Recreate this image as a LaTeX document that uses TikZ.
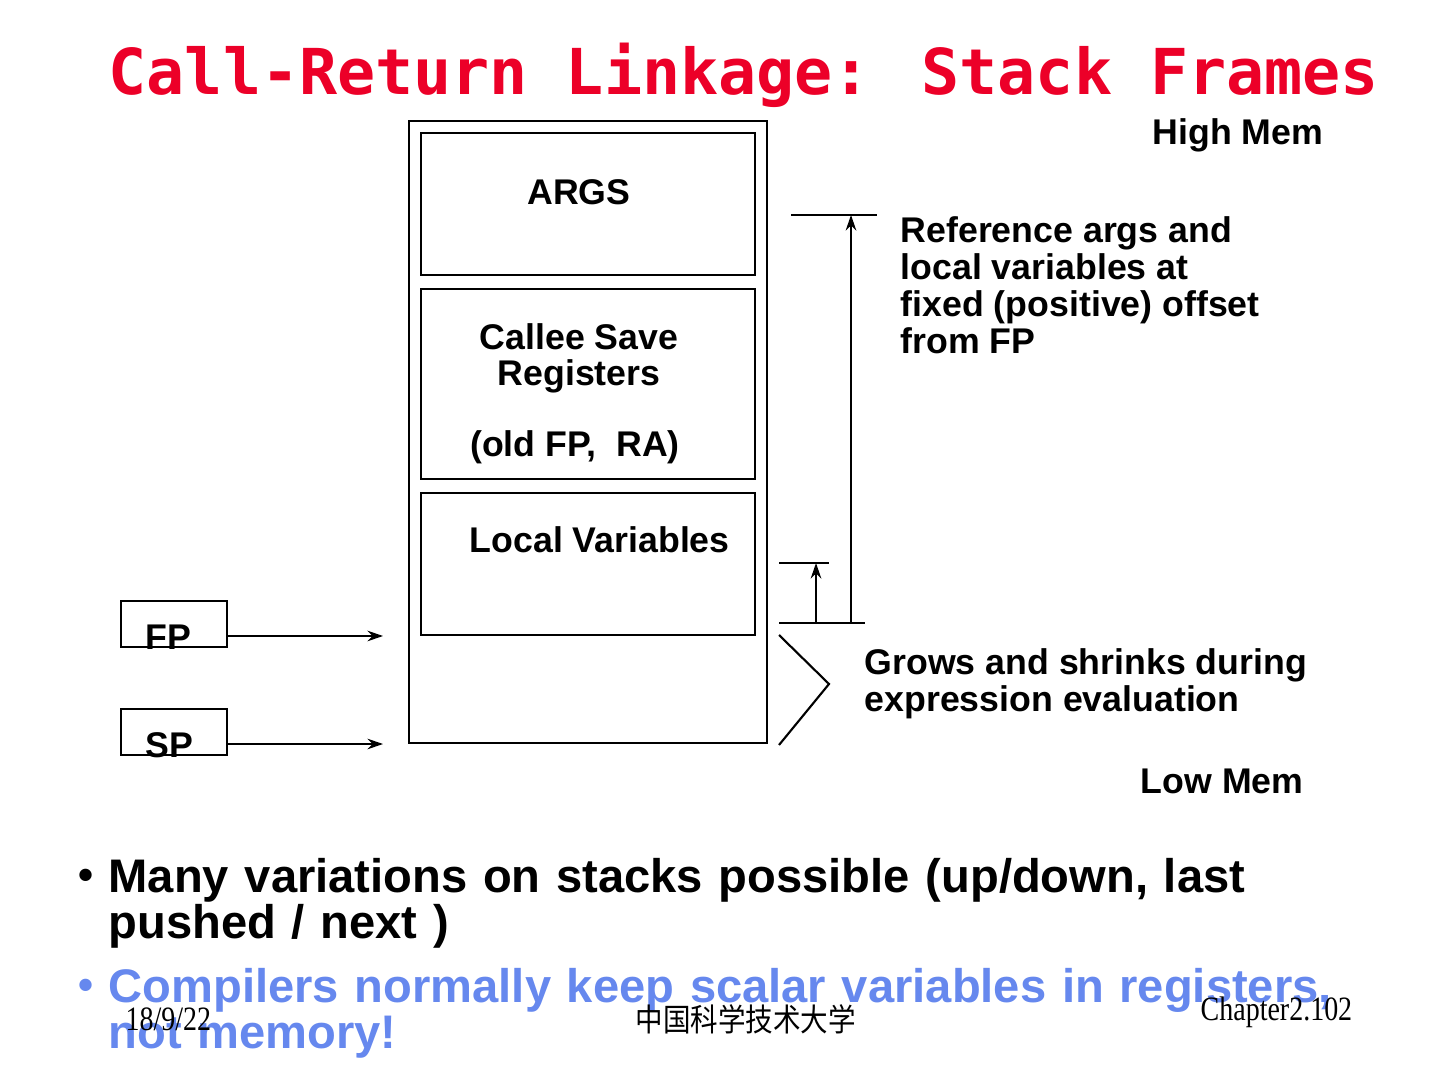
\documentclass[tikz,border=0pt]{standalone}
\usepackage{fontspec}
\setmainfont{Liberation Sans}
\newfontfamily\titlefont{DejaVu Sans Mono}
\newfontfamily\footfont{Liberation Serif}[FakeStretch=0.82]
\newfontfamily\cjk{Noto Sans CJK SC}[FakeStretch=0.87]
\usetikzlibrary{arrows.meta}
\definecolor{titlered}{RGB}{236,0,40}
\definecolor{bulletblue}{RGB}{102,136,238}
\begin{document}
\begin{tikzpicture}[x=0.01cm,y=-0.01cm,
  box/.style={draw,line width=0.6pt,inner sep=0pt},
  lbl/.style={inner sep=0pt,font=\fontsize{10.15}{10.5}\selectfont\bfseries,align=left},
  clbl/.style={inner sep=0pt,font=\fontsize{10.15}{10.5}\selectfont\bfseries,align=center},
  ln/.style={line width=0.6pt},
  arr/.style={line width=0.6pt,-{Stealth[length=4.4pt,width=3pt,inset=1.4pt]}},
  bul/.style={inner sep=0pt,font=\fontsize{13.4}{13.1}\selectfont\bfseries,align=left,text width=13.2cm},
  foot/.style={inner sep=0pt,font=\fontsize{9.7}{10}\selectfont\footfont}]
\useasboundingbox (0,0) rectangle (1440,1080);
% title
\node (title) [anchor=base west,inner sep=0pt,text=titlered,font=\fontsize{18.0}{20}\selectfont\titlefont\bfseries] at (108,95) {Call-Return Linkage: Stack Frames};
% stack frame
\node (frame) [box,minimum width=3.58cm,minimum height=6.22cm] at (588,432) {};
\node (args) [box,minimum width=3.34cm,minimum height=1.42cm] at (588,204) {};
\node (callee) [box,minimum width=3.34cm,minimum height=1.90cm] at (588,384) {};
\node (locals) [box,minimum width=3.34cm,minimum height=1.42cm] at (588,564) {};
\node (argst) [clbl,anchor=base] at (579,205) {ARGS};
\node (calleet) [clbl,anchor=base] at (579,386) {Callee Save\\Registers};
\node (oldfp) [clbl,anchor=base] at (575,457) {(old FP,\ \ RA)};
\node (localt) [lbl,anchor=base west] at (469,553) {Local Variables};
% FP / SP
\node (fpbox) [box,minimum width=1.06cm,minimum height=0.46cm] at (174,624) {};
\node (spbox) [box,minimum width=1.06cm,minimum height=0.46cm] at (174,732) {};
\node (fpt) [lbl,anchor=base west] at (145,650) {FP};
\node (spt) [lbl,anchor=base west] at (145,758) {SP};
\coordinate (fpend) at (383,636);
\coordinate (spend) at (383,744);
\draw[arr] (fpbox.east |- fpend) -- (fpend);
\draw[arr] (spbox.east |- spend) -- (spend);
% brackets
\coordinate (topL) at (791,215); \coordinate (topR) at (877,215);
\coordinate (botL) at (779,623); \coordinate (botR) at (865,623);
\coordinate (midL) at (779,563); \coordinate (midR) at (829,563);
\coordinate (longB) at (851,623); \coordinate (longT) at (851,215);
\coordinate (shortB) at (816,623); \coordinate (shortT) at (816,563);
\draw[ln] (topL) -- (topR);
\draw[ln] (botL) -- (botR);
\draw[ln] (midL) -- (midR);
\draw[arr] (longB) -- (longT);
\draw[arr] (shortB) -- (shortT);
\draw[ln] (779,635) -- (829,684) -- (779,745);
% side labels
\node (high) [lbl,anchor=base west] at (1152,145) {High Mem};
\node (ref) [lbl,anchor=north west] at (900,216) {Reference args and\\local variables at\\fixed (positive) offset\\from FP};
\node (grow) [lbl,anchor=north west] at (864,648) {Grows and shrinks during\\expression evaluation};
\node (low) [lbl,anchor=base west] at (1140,793) {Low Mem};
% bullets
\node (b1dot) [anchor=base west,inner sep=0pt,font=\fontsize{12.2}{13.1}\selectfont\bfseries] at (78,889) {•};
\node (b1) [bul,anchor=north west] at (108,858) {Many variations on stacks possible (up/down, last\\pushed / next )};
\node (b2dot) [anchor=base west,inner sep=0pt,font=\fontsize{12.2}{13.1}\selectfont\bfseries,text=bulletblue] at (78,999) {•};
\node (b2) [bul,anchor=north west,text=bulletblue] at (108,968) {Compilers normally keep scalar variables in registers,\\not memory!};
% footer
\node (date) [foot,anchor=base west] at (125,1030) {18/9/22};
\node (univ) [anchor=base west,inner sep=0pt,font=\fontsize{9}{10}\selectfont\cjk] at (635,1031) {中国科学技术大学};
\node (chap) [foot,anchor=base west] at (1200,1020) {Chapter2.102};
\end{tikzpicture}
\end{document}
